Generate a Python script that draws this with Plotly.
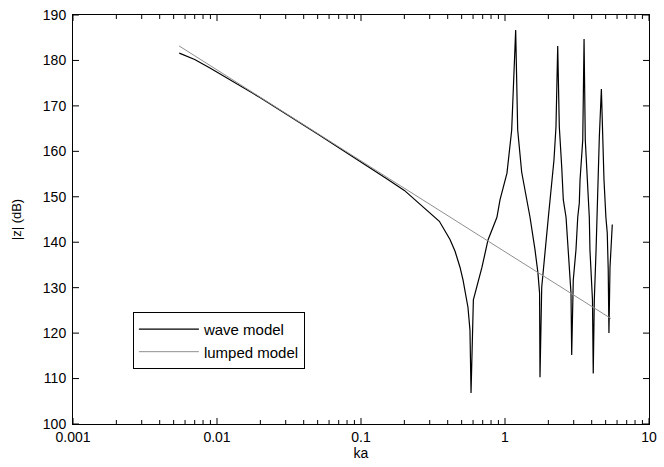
import plotly.graph_objects as go

# Wave model (ka, |z| dB)
wave_ka = [0.00547, 0.007, 0.009, 0.012, 0.02, 0.05, 0.1, 0.15, 0.2, 0.25,
           0.3, 0.35, 0.415, 0.45, 0.487, 0.511, 0.553, 0.571, 0.581, 0.603, 0.692, 0.762,
           0.879, 0.923, 1.032, 1.113, 1.186, 1.225, 1.306, 1.422, 1.492, 1.616,
           1.694, 1.738, 1.750, 1.799, 1.896, 2.0, 2.188, 2.26, 2.323, 2.383,
           2.477, 2.541, 2.654, 2.753, 2.873, 2.905, 2.979, 3.11, 3.2, 3.28,
           3.32, 3.467, 3.54, 3.61, 3.73, 3.85, 3.89, 4.05, 4.10, 4.17,
           4.29, 4.40, 4.52, 4.67, 4.77, 4.87, 5.02, 5.13, 5.21, 5.27,
           5.36, 5.56]
wave_db = [181.6, 180.2, 178.3, 176.0, 171.8, 163.8, 157.7, 154.0, 151.4, 148.7,
           146.6, 144.6, 140.6, 138.0, 134.5, 131.7, 125.7, 120.7, 106.8, 127.3, 134.5, 140.5,
           145.5, 149.3, 155.2, 164.7, 186.7, 164.7, 155.4, 149.3, 145.5, 138.3,
           133.2, 128.8, 110.3, 130.1, 138.3, 145.5, 158.1, 165.4, 183.2, 165.4,
           156.5, 149.3, 145.5, 138.3, 128.8, 115.2, 131.7, 138.3, 145.5, 148.6,
           153.7, 162.5, 184.7, 162.5, 153.7, 145.5, 138.3, 127.3, 111.1, 127.3,
           138.3, 153.7, 163.2, 173.7, 163.2, 153.7, 145.5, 142.0, 134.0, 120.0,
           134.5, 143.9]

# Lumped model
lumped_ka = [0.00545, 0.01, 0.1, 1.0, 5.45]
lumped_db = [183.2, 177.9, 157.9, 137.9, 123.2]

x_tickvals = [0.001, 0.01, 0.1, 1, 10]
x_ticktext = ["0.001", "0.01", "0.1", "1", "10"]
x_minorvals = [m * d for d in (0.001, 0.01, 0.1, 1) for m in range(2, 10)]
y_tickvals = [100, 110, 120, 130, 140, 150, 160, 170, 180, 190]

FONT = "Liberation Sans, Arial, sans-serif"
W, H = 664, 467
ML, MR, MT, MB = 73, 15, 15, 43
PW, PH = W - ML - MR, H - MT - MB

fig = go.Figure()
fig.add_trace(go.Scatter(x=wave_ka, y=wave_db, mode="lines", name="wave model",
                         line=dict(color="black", width=1.2)))
fig.add_trace(go.Scatter(x=lumped_ka, y=lumped_db, mode="lines", name="lumped model",
                         line=dict(color="#8f8f8f", width=1)))

# inward tick marks (MATLAB style) on all four sides, placed through the axes
tx, ty = [], []
for v in x_tickvals + x_minorvals:
    L = (6 if v in x_tickvals else 4) / PH
    tx += [v, v, None, v, v, None]
    ty += [0, L, None, 1, 1 - L, None]
fig.add_trace(go.Scatter(x=tx, y=ty, yaxis="y2", mode="lines", showlegend=False,
                         hoverinfo="skip", cliponaxis=False,
                         line=dict(color="black", width=1)))
sx, sy = [], []
Ly = 6 / PW
for v in y_tickvals:
    sx += [0, Ly, None, 1, 1 - Ly, None]
    sy += [v, v, None, v, v, None]
fig.add_trace(go.Scatter(x=sx, y=sy, xaxis="x2", mode="lines", showlegend=False,
                         hoverinfo="skip", cliponaxis=False,
                         line=dict(color="black", width=1)))

fig.update_layout(
    width=W, height=H,
    margin=dict(l=ML, r=MR, t=MT, b=MB),
    paper_bgcolor="white", plot_bgcolor="white",
    font=dict(family=FONT, size=14, color="black"),
    showlegend=True,
    legend=dict(x=0.104, y=0.274, xanchor="left", yanchor="top",
                bordercolor="black", borderwidth=1, bgcolor="white",
                font=dict(family=FONT, size=15), itemwidth=60,
                tracegroupgap=0),
    xaxis=dict(type="log", range=[-3, 1], tickmode="array", tickvals=x_tickvals,
               ticktext=x_ticktext, ticks="", showline=True, linecolor="black",
               linewidth=1, mirror=True, showgrid=False, zeroline=False,
               automargin=False,
               title=dict(text="ka", standoff=0, font=dict(size=14))),
    xaxis2=dict(range=[0, 1], overlaying="x", visible=False, fixedrange=True),
    yaxis=dict(range=[100, 190], tickmode="array", tickvals=y_tickvals, ticks="",
               showline=True, linecolor="black", linewidth=1, mirror=True,
               showgrid=False, zeroline=False, automargin=False, ticklabelstandoff=3,
               title=dict(text="|z| (dB)", standoff=18, font=dict(size=13))),
    yaxis2=dict(range=[0, 1], overlaying="y", visible=False, fixedrange=True),
)

fig.write_html("out.html", config={"displayModeBar": False},
               post_script="document.body.style.margin='0';")
